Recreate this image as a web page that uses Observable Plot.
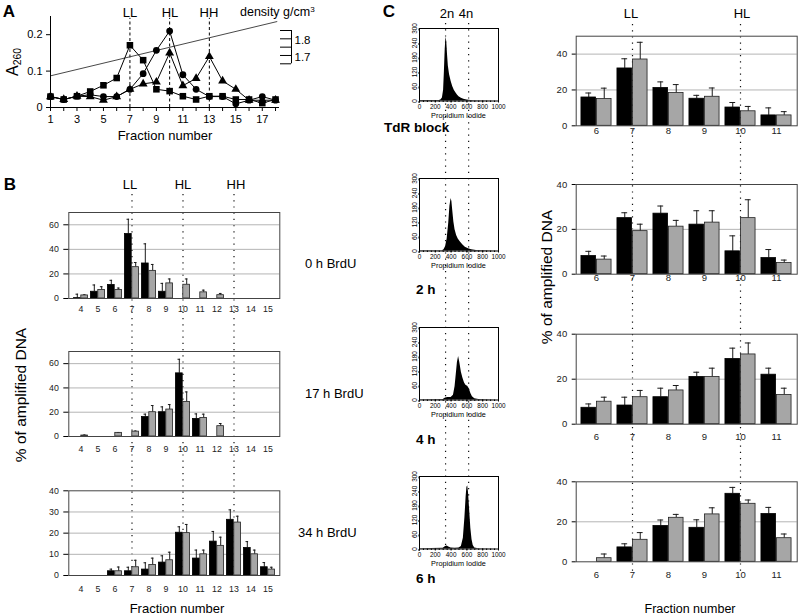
<!DOCTYPE html>
<html>
<head>
<meta charset="utf-8">
<script src="https://cdn.jsdelivr.net/npm/d3@7"></script>
<script src="https://cdn.jsdelivr.net/npm/@observablehq/plot@0.6"></script>
<style>
  body { margin: 0; background: #fff; font-family: "Liberation Sans", Arial, Helvetica, sans-serif; color: #000; }
  #fig { position: relative; width: 800px; height: 615px; overflow: hidden; background: #fff; }
  .t { position: absolute; white-space: nowrap; line-height: 1; color: #000; }
  .t sub { font-size: 65%; vertical-align: -0.25em; }
  .t sup { font-size: 65%; vertical-align: 0.55em; }
</style>
</head>
<body>
<div id="fig"></div>
<script>
// ---------------- DATA ----------------
// Panel A: A260 profile across CsCl gradient fractions
const fracA = [1, 2, 3, 4, 5, 6, 7, 8, 9, 10, 11, 12, 13, 14, 15, 16, 17, 18];
const aSquares   = [0.03, 0.022, 0.031, 0.044, 0.061, 0.081, 0.171, 0.13, 0.05, 0.045, 0.031, 0.022, 0.031, 0.031, 0.022, 0.022, 0.012, 0.022];
const aCircles   = [0.03, 0.022, 0.031, 0.035, 0.03, 0.03, 0.05, 0.093, 0.157, 0.21, 0.09, 0.05, 0.03, 0.03, 0.01, 0.02, 0.03, 0.02];
const aTriangles = [0.03, 0.022, 0.031, 0.03, 0.02, 0.03, 0.05, 0.065, 0.07, 0.15, 0.06, 0.08, 0.14, 0.073, 0.05, 0.02, 0.02, 0.02];
const aTicks = [0, 0.1, 0.2];
const densityLineX = [1, 18.1];
const densityLineY = [0.087, 0.236];
const densityTicks = [1.65, 1.7, 1.75, 1.8, 1.85];
const densityLabels = [1.7, 1.8];
const peakFractions = [7, 10, 13];
const peakLabels = ["LL", "HL", "HH"];

// Panel B: % of amplified DNA per fraction (black / grey series, with upper error)
const fracB = [4, 5, 6, 7, 8, 9, 10, 11, 12, 13, 14, 15];
const b0Black    = [0.3, 5.5, 11, 52.5, 28.5, 5.5, 0, 0, 0, 0, 0, 0];
const b0BlackErr = [3.5, 11, 14.8, 64.5, 44.5, 12.3, 0, 0, 0, 0, 0, 0];
const b0Grey     = [2.5, 7, 7, 25.5, 22.5, 12.3, 11.2, 5, 2.7, 0, 0, 0];
const b0GreyErr  = [3, 9.6, 8.5, 29.3, 27.7, 15.9, 15.9, 6.8, 4.1, 0, 0, 0];
const b17Black    = [0, 0, 0, 0, 16, 20, 52, 14.5, 0, 0, 0, 0];
const b17BlackErr = [0, 0, 0, 0, 18.4, 24.4, 63.6, 18.6, 0, 0, 0, 0];
const b17Grey     = [0.8, 0, 3, 4, 20, 22.2, 28.5, 15.3, 8.5, 0, 0, 0];
const b17GreyErr  = [1.2, 0, 3.3, 4.5, 25.5, 26.3, 36.7, 18.4, 10.7, 0, 0, 0];
const b34Black    = [0, 0, 2, 2, 2.8, 6.1, 20.2, 8, 16, 26.3, 13, 3.9];
const b34BlackErr = [0, 0, 3, 3.9, 6, 9.3, 23, 12, 20.8, 31, 16, 6.1];
const b34Grey     = [0, 0, 2, 3.9, 5, 7.2, 20, 10, 14, 25, 10, 2.8];
const b34GreyErr  = [0, 0, 4, 7.2, 8.2, 11, 24.1, 12, 18.1, 28, 12, 3.9];
const bTimeLabels = ["0 h BrdU", "17 h BrdU", "34 h BrdU"];

// Panel C: bars
const fracC = [6, 7, 8, 9, 10, 11];
const c0Black    = [15.8, 32, 21.1, 15.1, 10.2, 5.8];
const c0BlackErr = [18.3, 37.4, 24.5, 17, 13, 10];
const c0Grey     = [14.9, 37, 18.3, 16.2, 8.1, 5.8];
const c0GreyErr  = [21, 46.6, 23, 21.1, 10.8, 7.9];
const c2Black    = [8.1, 25, 27, 22.1, 10.2, 7.2];
const c2BlackErr = [10.2, 27.4, 30.4, 28.3, 17.1, 11];
const c2Grey     = [6.5, 19.2, 21.2, 23, 25, 5];
const c2GreyErr  = [8.1, 22.3, 24, 28.3, 33.2, 6.3];
const c4Black    = [7.3, 8.3, 12, 21, 29, 22];
const c4BlackErr = [9, 12, 16, 23.1, 33.8, 24.9];
const c4Grey     = [10, 12, 15, 21, 31, 13];
const c4GreyErr  = [12, 15, 17.2, 24.9, 36.1, 16];
const c6Black    = [0, 7.2, 17.9, 17, 34, 23.9];
const c6BlackErr = [0, 9, 20.9, 21, 37.2, 27.2];
const c6Grey     = [1.8, 11, 22, 23.7, 29, 11.8];
const c6GreyErr  = [3.9, 14.6, 23.7, 27, 30.9, 13.9];
const cTimeLabels = ["TdR block", "2 h", "4 h", "6 h"];

// Panel C: flow cytometry histograms (propidium iodide vs count)
const piTicks = [0, 200, 400, 600, 800, 1000];
const countTicks = [0, 60, 120, 180, 240, 300];
const ploidyPositions = [330, 622];
const ploidyLabels = ["2n", "4n"];
const hTdRx = [0, 250, 270, 290, 305, 315, 325, 335, 345, 355, 365, 380, 400, 420, 440, 460, 480, 500, 530, 560, 600, 650, 700, 1000];
const hTdRy = [2, 2, 4, 12, 45, 120, 210, 265, 245, 190, 145, 110, 82, 60, 45, 34, 25, 18, 11, 7, 4, 2, 1, 0];
const h2x = [0, 290, 310, 330, 350, 370, 385, 400, 410, 420, 435, 450, 470, 490, 520, 550, 580, 620, 660, 720, 1000];
const h2y = [1, 1, 5, 18, 50, 115, 185, 217, 205, 170, 120, 88, 64, 50, 36, 25, 16, 9, 5, 2, 0];
const h4x = [0, 300, 330, 360, 400, 430, 450, 465, 480, 495, 510, 530, 550, 570, 590, 610, 630, 650, 670, 700, 750, 1000];
const h4y = [1, 2, 8, 10, 10, 20, 55, 105, 155, 180, 155, 115, 90, 70, 60, 57, 47, 27, 13, 5, 2, 0];
const h6x = [0, 300, 330, 350, 370, 400, 450, 500, 530, 555, 575, 590, 600, 610, 620, 635, 650, 665, 680, 700, 750, 1000];
const h6y = [1, 3, 10, 12, 8, 4, 3, 4, 10, 45, 130, 215, 255, 262, 235, 160, 85, 38, 14, 4, 1, 0];

// ---------------- HELPERS ----------------
const fig = document.getElementById("fig");
const FONT = "Liberation Sans, Arial, Helvetica, sans-serif";
const baseStyle = {background: "transparent", fontFamily: FONT, overflow: "visible", color: "#000"};

function place(el, left, top, z = 1) {
  el.style.position = "absolute";
  el.style.left = left + "px";
  el.style.top = top + "px";
  el.style.zIndex = z;
  el.style.maxWidth = "none";
  el.style.pointerEvents = "none";
  fig.appendChild(el);
}
function txt(html, x, y, o = {}) {
  const d = document.createElement("div");
  d.className = "t";
  d.innerHTML = html;
  d.style.fontSize = (o.size || 13) + "px";
  d.style.fontWeight = o.weight || "normal";
  d.style.left = x + "px";
  d.style.top = y + "px";
  d.style.zIndex = 5;
  const tx = o.anchor === "start" ? "0" : o.anchor === "end" ? "-100%" : "-50%";
  d.style.transform = `translate(${tx},-50%)` + (o.rotate ? ` rotate(${o.rotate}deg)` : "");
  if (o.rotate) d.style.transformOrigin = "50% 50%";
  fig.appendChild(d);
}

// ---------------- PANEL A ----------------
const aRows = fracA.map((f, i) => ({f, sq: aSquares[i], ci: aCircles[i], tr: aTriangles[i]}));
const densRows = densityLineX.map((x, i) => ({x, y: densityLineY[i]}));
const plotA = Plot.plot({
  width: 300, height: 140,
  marginLeft: 50, marginRight: 21, marginTop: 16, marginBottom: 33,
  style: baseStyle,
  x: {domain: [1, 18.3], label: null},
  y: {domain: [0, 0.25], label: null},
  marks: [
    Plot.ruleX(peakFractions, {y1: 0, y2: 0.245, stroke: "#000", strokeWidth: 1, strokeDasharray: "3,2.5"}),
    Plot.line(densRows, {x: "x", y: "y", stroke: "#333", strokeWidth: 0.9}),
    Plot.ruleX([1], {stroke: "#000"}),
    Plot.ruleY([0], {stroke: "#000"}),
    Plot.line(aRows, {x: "f", y: "sq", stroke: "#000", strokeWidth: 1}),
    Plot.line(aRows, {x: "f", y: "ci", stroke: "#000", strokeWidth: 1}),
    Plot.line(aRows, {x: "f", y: "tr", stroke: "#000", strokeWidth: 1}),
    Plot.dot(aRows, {x: "f", y: "ci", symbol: "circle", fill: "#000", r: 3.4}),
    Plot.dot(aRows, {x: "f", y: "tr", symbol: "triangle", fill: "#000", r: 3.3}),
    Plot.dot(aRows, {x: "f", y: "sq", symbol: "square", fill: "#000", r: 3.7}),
    Plot.axisX({ticks: fracA, tickSize: 4, tickPadding: 4, fontSize: 11, tickFormat: d => (d % 2 ? String(d) : "")}),
    Plot.axisY({ticks: aTicks, tickSize: 4, tickPadding: 4, fontSize: 11, tickFormat: d => (d === 0 ? "0" : d.toFixed(1))})
  ]
});
place(plotA, 0, 0);

const plotDens = Plot.plot({
  width: 45, height: 45,
  marginLeft: 5, marginRight: 29, marginTop: 5, marginBottom: 6.7,
  style: baseStyle,
  x: {domain: [0, 1], axis: null, label: null},
  y: {domain: [1.65, 1.85], axis: null, label: null},
  marks: [
    Plot.ruleX([1], {y1: 1.65, y2: 1.85, stroke: "#000"}),
    Plot.ruleY(densityTicks, {x1: 0, x2: 1, stroke: "#000"}),
    Plot.text(densityLabels, {x: 1, y: d => d, text: d => d.toFixed(1), dx: 3, dy: 1.5, textAnchor: "start", fontSize: 11.5, fill: "#000"})
  ]
});
place(plotDens, 275, 25);

txt("A", 9, 11, {size: 17, weight: "bold"});
peakLabels.forEach((l, i) => txt(l, [130, 170, 209][i], 12, {size: 13}));
txt("density g/cm<sup>3</sup>", 240, 12, {size: 12.5, anchor: "start"});
txt("A<sub>260</sub>", 14, 62, {size: 16, rotate: -90});
txt("Fraction number", 165, 134.5, {size: 13});

// ---------------- GROUPED BAR HELPER ----------------
function groupedBars(p) {
  const rows = p.fracs.map((f, i) => ({f: String(f), black: p.black[i], blackErr: p.blackErr[i], grey: p.grey[i], greyErr: p.greyErr[i]}));
  const bw = (p.width - p.mL - p.mR) / p.fracs.length;
  const eb = {stroke: "#1a1a1a", strokeWidth: 1};
  const bErr = rows.filter(d => d.blackErr > d.black);
  const gErr = rows.filter(d => d.greyErr > d.grey);
  return Plot.plot({
    width: p.width, height: p.height,
    marginLeft: p.mL, marginRight: p.mR, marginTop: p.mT, marginBottom: p.mB,
    style: baseStyle,
    x: {type: "band", domain: p.fracs.map(String), padding: 0, label: null},
    y: {domain: [0, p.yMax], label: null},
    marks: [
      Plot.ruleY(p.grid, {stroke: "#b4b4b4", strokeWidth: 1}),
      Plot.ruleX(bErr, {x: "f", y1: "black", y2: "blackErr", dx: -0.21 * bw, ...eb}),
      Plot.tickY(bErr, {x: "f", y: "blackErr", insetLeft: 0.2 * bw, insetRight: 0.62 * bw, ...eb}),
      Plot.ruleX(gErr, {x: "f", y1: "grey", y2: "greyErr", dx: 0.21 * bw, ...eb}),
      Plot.tickY(gErr, {x: "f", y: "greyErr", insetLeft: 0.62 * bw, insetRight: 0.2 * bw, ...eb}),
      Plot.barY(rows.filter(d => d.black > 0), {x: "f", y: "black", fill: "#000", stroke: "#000", strokeWidth: 0.8, insetLeft: 0.08 * bw, insetRight: 0.5 * bw}),
      Plot.barY(rows.filter(d => d.grey > 0), {x: "f", y: "grey", fill: "#a6a6a6", stroke: "#222", strokeWidth: 0.8, insetLeft: 0.5 * bw, insetRight: 0.08 * bw}),
      Plot.frame({stroke: "#444", strokeWidth: 1}),
      Plot.axisY({ticks: p.yTicks, tickSize: p.ytSize, tickPadding: p.ytPad, fontSize: p.fs, fill: "#222"}),
      Plot.axisX({tickSize: 0, tickPadding: p.xPad, fontSize: p.fs, fill: "#222"})
    ]
  });
}
function overlay(domain, positions, width, height, mL, mR, type) {
  const isBand = type === "band";
  return Plot.plot({
    width, height, marginLeft: mL, marginRight: mR, marginTop: 0, marginBottom: 0,
    style: baseStyle,
    x: isBand ? {type: "band", domain: domain.map(String), padding: 0, axis: null, label: null}
              : {domain, axis: null, label: null},
    marks: [
      Plot.ruleX(positions, {x: d => (isBand ? String(d) : d), stroke: "#111", strokeWidth: 1.2, strokeDasharray: "1.2,5"})
    ]
  });
}

// ---------------- PANEL B ----------------
place(overlay(fracB, peakFractions, 300, 382, 68.3, 20.7, "band"), 0, 194, 0);
const bCommon = {fracs: fracB, width: 300, height: 120, mL: 68.3, mR: 20.7, fs: 8.8, ytSize: 5, ytPad: 5};
place(groupedBars({...bCommon, black: b0Black, blackErr: b0BlackErr, grey: b0Grey, greyErr: b0GreyErr,
  yMax: 70, yTicks: [0, 20, 40, 60], grid: [20, 40, 60], mT: 12, mB: 22, xPad: 7.5}), 0, 200);
place(groupedBars({...bCommon, black: b17Black, blackErr: b17BlackErr, grey: b17Grey, greyErr: b17GreyErr,
  yMax: 70, yTicks: [0, 20, 40, 60], grid: [20, 40, 60], mT: 11, mB: 24, xPad: 9}), 0, 340);
place(groupedBars({...bCommon, black: b34Black, blackErr: b34BlackErr, grey: b34Grey, greyErr: b34GreyErr,
  yMax: 40, yTicks: [0, 10, 20, 30, 40], grid: [10, 20, 30], mT: 10.3, mB: 25, xPad: 10}), 0, 480);

txt("B", 10, 184, {size: 17, weight: "bold"});
peakLabels.forEach((l, i) => txt(l, [130, 183, 236][i], 184, {size: 13}));
txt(bTimeLabels[0], 305, 263, {size: 13, anchor: "start"});
txt(bTimeLabels[1], 305, 393, {size: 13, anchor: "start"});
txt(bTimeLabels[2], 298, 532, {size: 13, anchor: "start"});
txt("% of amplified DNA", 21, 395, {size: 15.5, rotate: -90});
txt("Fraction number", 177, 608, {size: 13});

// ---------------- PANEL C: histograms ----------------
function histogram(xs, ys) {
  const rows = xs.map((x, i) => ({x, y: ys[i]}));
  return Plot.plot({
    width: 115, height: 106,
    marginLeft: 24, marginRight: 12, marginTop: 8, marginBottom: 25.5,
    style: baseStyle,
    x: {domain: [0, 1000], label: null},
    y: {domain: [0, 300], label: null},
    marks: [
      Plot.areaY(rows, {x: "x", y: "y", fill: "#000", curve: "linear"}),
      Plot.frame({stroke: "#000", strokeWidth: 1}),
      Plot.axisX({ticks: d3.range(0, 1001, 50), tickSize: 1.5, tickFormat: () => ""}),
      Plot.axisX({ticks: piTicks, tickSize: 2, tickPadding: 1, fontSize: 6.4, tickFormat: d => String(d)}),
      Plot.axisY({ticks: countTicks, tickSize: 2, tickPadding: 3, fontSize: 6.4, rotate: -90, textAnchor: "middle", tickFormat: d => String(d)})
    ]
  });
}
place(overlay([0, 1000], ploidyPositions, 115, 527, 24, 12, "linear"), 395, 23, 0);
const histTops = [28.3, 178.3, 326.7, 475.7];
const histData = [[hTdRx, hTdRy], [h2x, h2y], [h4x, h4y], [h6x, h6y]];
histData.forEach(([xs, ys], i) => {
  place(histogram(xs, ys), 395, histTops[i] - 8);
  txt("Propidium Iodide", 458.5, histTops[i] + 72.5 + 15.5, {size: 7.3});
});

txt("C", 389, 11, {size: 17, weight: "bold"});
txt(ploidyLabels[0], 447, 13, {size: 13});
txt(ploidyLabels[1], 466, 13, {size: 13});
txt(cTimeLabels[0], 384, 128, {size: 13.5, weight: "bold", anchor: "start"});
txt(cTimeLabels[1], 416, 289.5, {size: 13.5, weight: "bold", anchor: "start"});
txt(cTimeLabels[2], 416, 439.5, {size: 13.5, weight: "bold", anchor: "start"});
txt(cTimeLabels[3], 416, 578.5, {size: 13.5, weight: "bold", anchor: "start"});

// ---------------- PANEL C: bars ----------------
place(overlay(fracC, [7, 10], 260, 548, 35.7, 3.3, "band"), 540, 24, 0);
const cCommon = {fracs: fracC, width: 260, height: 120, mL: 35.7, mR: 3.3, fs: 9.5, ytSize: 4, ytPad: 5};
place(groupedBars({...cCommon, black: c0Black, blackErr: c0BlackErr, grey: c0Grey, greyErr: c0GreyErr,
  yMax: 50, yTicks: [0, 20, 40], grid: [20, 40], mT: 10.7, mB: 19.7, xPad: 1.5}), 540, 25);
place(groupedBars({...cCommon, black: c2Black, blackErr: c2BlackErr, grey: c2Grey, greyErr: c2GreyErr,
  yMax: 40, yTicks: [0, 20, 40], grid: [20], mT: 10, mB: 20.3, xPad: 0.5}), 540, 174);
place(groupedBars({...cCommon, black: c4Black, blackErr: c4BlackErr, grey: c4Grey, greyErr: c4GreyErr,
  yMax: 40, yTicks: [0, 20, 40], grid: [20], mT: 9.7, mB: 20.3, xPad: 9.5}), 540, 324);
place(groupedBars({...cCommon, black: c6Black, blackErr: c6BlackErr, grey: c6Grey, greyErr: c6GreyErr,
  yMax: 40, yTicks: [0, 20, 40], grid: [20], mT: 10.3, mB: 29.7, xPad: 9.5}), 540, 471);

txt("LL", 631, 13, {size: 13});
txt("HL", 742, 13, {size: 13});
txt("% of amplified DNA", 547, 277, {size: 15.5, rotate: -90});
txt("Fraction number", 690, 609, {size: 12.5});
</script>
</body>
</html>
